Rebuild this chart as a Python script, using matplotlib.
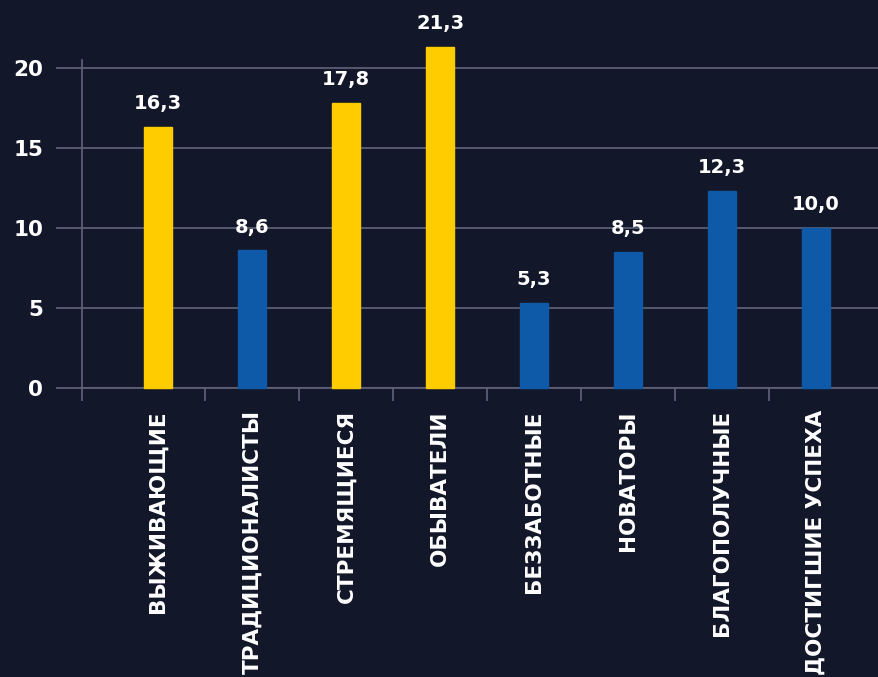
import numpy as np
import matplotlib
matplotlib.use('Agg')
import matplotlib.pyplot as plt

categories = ["ВЫЖИВАЮЩИЕ", "ТРАДИЦИОНАЛИСТЫ", "СТРЕМЯЩИЕСЯ", "ОБЫВАТЕЛИ",
              "БЕЗЗАБОТНЫЕ", "НОВАТОРЫ", "БЛАГОПОЛУЧНЫЕ", "ДОСТИГШИЕ УСПЕХА"]
values = [16.3, 8.6, 17.8, 21.3, 5.3, 8.5, 12.3, 10.0]
highlight = [True, False, True, True, False, False, False, False]
value_labels = ["16,3", "8,6", "17,8", "21,3", "5,3", "8,5", "12,3", "10,0"]
yticks = [0, 5, 10, 15, 20]

bg = "#13172a"
yellow = "#ffcc00"
blue = "#0f5aa8"
grid = "#60637a"

fig = plt.figure(figsize=(8.79, 6.77), dpi=100, facecolor=bg)
ax = fig.add_axes([82/879, (677-388)/677, (879-82)/879, (388-60)/677])
ax.set_facecolor(bg)

x = np.arange(len(categories))
colors = [yellow if h else blue for h in highlight]
ax.bar(x, values, width=0.3, color=colors, edgecolor=colors, zorder=3,
       clip_on=False)

for xi, v, lab in zip(x, values, value_labels):
    ax.annotate(lab, (xi, v), xytext=(0, 10), textcoords="offset points",
                ha="center", va="bottom", color="white", fontsize=14,
                fontweight="bold", annotation_clip=False)

xmin = -0.81
ax.set_xlim(xmin, 7.67)
ax.set_ylim(0, 20.5)

# category boundaries as ticks, labels at bar centres
ax.set_xticks([xmin] + list(x[1:] - 0.5))
ax.set_xticklabels([])
ax.tick_params(axis="x", which="major", length=9, color=grid, width=1.2)
ax.set_xticks(x, minor=True)
ax.set_xticklabels(categories, minor=True, rotation=90, va="top", ha="center",
                   color="white", fontsize=15.5, fontweight="bold")
ax.tick_params(axis="x", which="minor", length=0, pad=16)

ax.set_yticks(yticks)
ax.set_yticklabels([str(t) for t in yticks], color="white", fontsize=15.5,
                   fontweight="bold")
ax.tick_params(axis="y", length=19, color=grid, width=1.2, pad=9)
ax.grid(axis="y", color=grid, linewidth=1.2, zorder=0)

for s in ["top", "right"]:
    ax.spines[s].set_visible(False)
ax.spines["left"].set_color(grid)
ax.spines["left"].set_linewidth(1.2)
ax.spines["bottom"].set_color(grid)
ax.spines["bottom"].set_linewidth(1.2)

plt.savefig("out.png", facecolor=bg)
